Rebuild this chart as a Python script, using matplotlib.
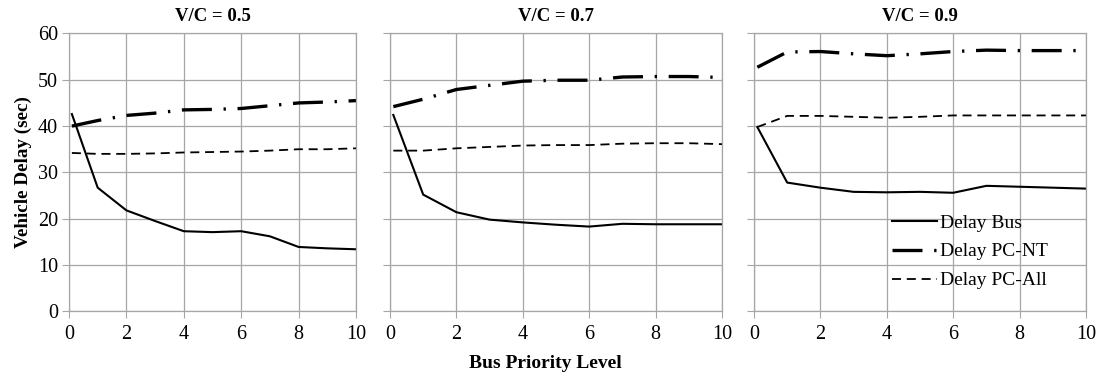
import matplotlib
matplotlib.use("Agg")
import matplotlib.pyplot as plt

x = [0.1, 1, 2, 3, 4, 5, 6, 7, 8, 9, 10]
titles = ["V/C = 0.5", "V/C = 0.7", "V/C = 0.9"]

bus_05 = [42.6, 26.7, 21.8, 19.5, 17.3, 17.1, 17.3, 16.2, 13.9, 13.6, 13.4]
nt_05 = [40.0, 41.2, 42.3, 42.8, 43.5, 43.6, 43.8, 44.4, 45.0, 45.2, 45.5]
all_05 = [34.2, 34.0, 34.0, 34.1, 34.3, 34.4, 34.5, 34.7, 35.0, 35.0, 35.2]

bus_07 = [42.4, 25.2, 21.4, 19.8, 19.2, 18.7, 18.3, 18.9, 18.8, 18.8, 18.8]
nt_07 = [44.2, 45.8, 47.9, 48.8, 49.7, 49.9, 49.9, 50.6, 50.7, 50.7, 50.5]
all_07 = [34.7, 34.7, 35.2, 35.5, 35.8, 35.9, 35.9, 36.2, 36.3, 36.3, 36.1]

bus_09 = [39.8, 27.8, 26.7, 25.8, 25.7, 25.8, 25.6, 27.1, 26.9, 26.7, 26.5]
nt_09 = [52.7, 56.0, 56.1, 55.6, 55.2, 55.6, 56.1, 56.4, 56.3, 56.3, 56.3]
all_09 = [39.8, 42.2, 42.2, 42.0, 41.8, 42.0, 42.3, 42.3, 42.3, 42.3, 42.3]

series = [(bus_05, nt_05, all_05), (bus_07, nt_07, all_07), (bus_09, nt_09, all_09)]
labels = ["Delay Bus", "Delay PC-NT", "Delay PC-All"]

plt.rcParams['font.family'] = ['Liberation Serif', 'DejaVu Serif']

fig = plt.figure(figsize=(11, 3.76), dpi=100)
bottom, top = 0.172, 0.911
positions = [(69, 287), (390, 332), (754, 332)]
grid_c = "#a6a6a6"
axes = []
for i, (lft, w) in enumerate(positions):
    ax = fig.add_axes([lft / 1100, bottom, w / 1100, top - bottom])
    axes.append(ax)
    bus, nt, al = series[i]
    ax.plot(x, bus, color="black", lw=1.5, label=labels[0])
    ax.plot(x, nt, color="black", lw=2.4, dashes=(9, 3.5, 0.7, 3.5),
            dash_capstyle="butt", label=labels[1])
    ax.plot(x, al, color="black", lw=1.3, dashes=(5, 3.2), label=labels[2])
    ax.set_xlim(0, 10)
    ax.set_ylim(0, 60)
    ax.set_xticks(range(0, 11, 2))
    ax.set_yticks(range(0, 61, 10))
    ax.grid(True, color=grid_c, lw=0.9)
    ax.set_axisbelow(True)
    for s in ax.spines.values():
        s.set_color(grid_c)
        s.set_linewidth(0.9)
    ax.tick_params(axis="both", direction="out", length=5, color=grid_c,
                   labelsize=14.5)
    ax.tick_params(axis="x", pad=5)
    ax.tick_params(axis="y", pad=3)
    if i > 0:
        ax.tick_params(axis="y", labelleft=False)
    ax.set_title(titles[i], fontsize=13.5, fontweight="bold", pad=9)

axes[0].set_ylabel("Vehicle Delay (sec)", fontsize=13.8, fontweight="bold", labelpad=4)
fig.text(0.4955, 0.034, "Bus Priority Level", ha="center", va="center",
         fontsize=14, fontweight="bold")

leg = axes[2].legend(loc="lower right", bbox_to_anchor=(0.925, 0.03),
                     frameon=False, fontsize=14, handlelength=2.3,
                     handletextpad=0.15, labelspacing=0.58, borderpad=0.2)

fig.savefig("out.png", dpi=100)
